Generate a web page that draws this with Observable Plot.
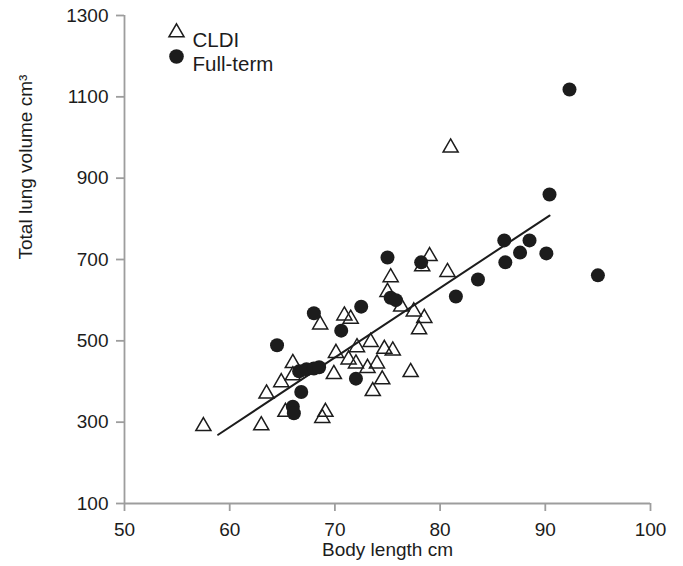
<!DOCTYPE html>
<html>
<head>
<meta charset="utf-8">
<script src="https://cdn.jsdelivr.net/npm/d3@7"></script>
<script src="https://cdn.jsdelivr.net/npm/@observablehq/plot@0.6"></script>
<style>
  html, body { margin: 0; padding: 0; background: #fff; }
</style>
</head>
<body>
<div id="chart"></div>
<script>
// ---- Data ----
const cldiX = [57.5, 63.0, 63.5, 64.9, 66.0, 66.0, 65.3, 68.6, 68.8, 69.1, 69.9, 70.1, 70.9, 71.5, 72.1, 71.3, 72.0, 73.1, 73.4, 73.6, 74.0, 74.5, 74.7, 75.5, 77.2, 75.0, 75.3, 76.3, 77.5, 78.0, 78.5, 78.3, 79.0, 80.7, 81.0];
const cldiY = [290, 292, 370, 398, 445, 415, 325, 540, 310, 325, 418, 470, 562, 554, 484, 454, 444, 433, 497, 376, 444, 405, 480, 476, 423, 620, 656, 584, 572, 528, 556, 683, 708, 669, 975];

const fullX = [92.3, 90.4, 86.1, 88.5, 87.6, 90.1, 86.2, 95.0, 83.6, 81.5, 75.0, 78.2, 75.3, 75.8, 72.5, 70.6, 68.0, 64.5, 66.6, 67.3, 68.0, 68.5, 66.8, 66.0, 66.1, 72.0];
const fullY = [1118, 860, 747, 747, 717, 715, 693, 661, 651, 609, 705, 693, 606, 600, 584, 525, 568, 489, 425, 430, 432, 435, 374, 338, 322, 407];

const fitX = [58.9, 90.4];
const fitY = [269, 808];

const xTicks = [50, 60, 70, 80, 90, 100];
const yTicks = [100, 300, 500, 700, 900, 1100, 1300];

const seriesNames = ["CLDI", "Full-term"];
const xLabel = "Body length cm";
const yLabel = "Total lung volume cm³";

// ---- Build tables ----
const cldi = cldiX.map((x, i) => ({x, y: cldiY[i]}));
const full = fullX.map((x, i) => ({x, y: fullY[i]}));
const fit = fitX.map((x, i) => ({x, y: fitY[i]}));

const axisGray = "#9d9d9d";
const ink = "#1c1c1c";

const chart = Plot.plot({
  width: 683,
  height: 566,
  marginLeft: 124,
  marginRight: 33,
  marginTop: 15,
  marginBottom: 63,
  x: {domain: [50, 100]},
  y: {domain: [100, 1300]},
  style: {fontFamily: "'Liberation Sans', Arial, sans-serif", fontSize: "19px", color: ink, background: "white", overflow: "visible"},
  marks: [
    Plot.ruleY([100], {stroke: axisGray, strokeWidth: 1.8}),
    Plot.ruleX([50], {stroke: axisGray, strokeWidth: 1.8}),
    Plot.axisX({ticks: xTicks, tickSize: 8, tickPadding: 11, stroke: axisGray, strokeWidth: 1.8, fill: ink, fontSize: 19, label: null, tickFormat: d => String(d)}),
    Plot.axisY({ticks: yTicks, tickSize: 8, tickPadding: 8, stroke: axisGray, strokeWidth: 1.8, fill: ink, fontSize: 19, label: null, tickFormat: d => String(d)}),
    Plot.text([xLabel], {frameAnchor: "bottom", dy: 52, fill: ink, fontSize: 19}),
    Plot.text([yLabel], {frameAnchor: "left", dx: -99, rotate: -90, fill: ink, fontSize: 19}),
    Plot.dot(cldi, {x: "x", y: "y", symbol: "triangle", r: 5.6, fill: "none", stroke: ink, strokeWidth: 1.5}),
    Plot.line(fit, {x: "x", y: "y", stroke: ink, strokeWidth: 2}),
    Plot.dot(full, {x: "x", y: "y", r: 7, fill: ink, stroke: "none"}),
    // legend
    Plot.dot([seriesNames[0]], {frameAnchor: "top-left", dx: 52, dy: 17, symbol: "triangle", r: 5.6, fill: "none", stroke: ink, strokeWidth: 1.5}),
    Plot.dot([seriesNames[1]], {frameAnchor: "top-left", dx: 52, dy: 41, r: 7.3, fill: ink}),
    Plot.text([seriesNames[0]], {frameAnchor: "top-left", dx: 68, dy: 17, textAnchor: "start", fill: ink, fontSize: 20.5}),
    Plot.text([seriesNames[1]], {frameAnchor: "top-left", dx: 68, dy: 41, textAnchor: "start", fill: ink, fontSize: 20.5})
  ]
});
document.getElementById("chart").appendChild(chart);
</script>
</body>
</html>
